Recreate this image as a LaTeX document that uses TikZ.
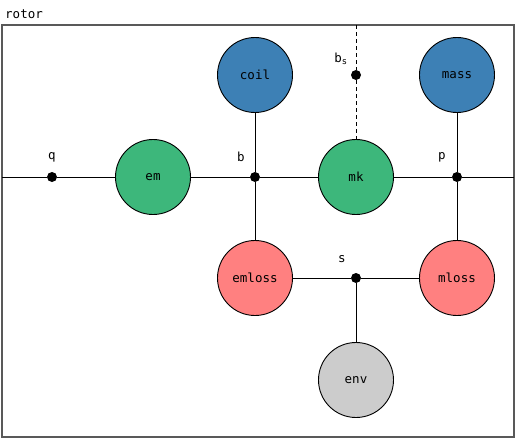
\documentclass[tikz,border=0pt]{standalone}
\usepackage{fontspec}
\setmonofont{DejaVu Sans Mono}

\definecolor{compgreen}{HTML}{3DB77B}
\definecolor{compblue}{HTML}{3D80B5}
\definecolor{compred}{HTML}{FF8080}
\definecolor{compgrey}{HTML}{CCCCCC}

\tikzset{
    comp/.style={circle, draw=black, line width=0.9pt, minimum size=75pt, inner sep=0pt},
    junction/.style={circle, fill=black, minimum size=10pt, inner sep=0pt},
    lbl/.style={inner sep=0pt},
    wire/.style={line width=1pt},
}

\begin{document}
\begin{tikzpicture}[x=1pt, y=-1pt, font=\ttfamily\fontsize{12.5}{14}\selectfont]
        \useasboundingbox (0,0) rectangle (517,439);
        \draw[line width=1.2pt, black!65] (2,25) rectangle (514,437);
        \node[lbl, anchor=base west] (rotorlbl) at (5,18) {rotor};

        \node[comp, fill=compgreen] (em) at (153,177) {em};
        \node[comp, fill=compblue] (coil) at (255,75) {coil};
        \node[comp, fill=compgreen] (mk) at (356,177) {mk};
        \node[comp, fill=compblue] (mass) at (457,75) {mass};
        \node[comp, fill=compred] (emloss) at (255,278) {emloss};
        \node[comp, fill=compred] (mloss) at (457,278) {mloss};
        \node[comp, fill=compgrey] (env) at (356,380) {env};

        \node[junction] (q) at (52,177) {};
        \node[junction] (b) at (255,177) {};
        \node[junction] (p) at (457,177) {};
        \node[junction] (s) at (356,278) {};
        \node[junction] (bs) at (356,75) {};

        \node[lbl] (qlbl) at (52,157) {q};
        \node[lbl] (blbl) at (241,157) {b};
        \node[lbl] (plbl) at (442,157) {p};
        \node[lbl] (slbl) at (342,259) {s};
        \node[lbl] (bslbl) at (341,59) {b\textsubscript{s}};

        \coordinate (west) at (2,177);
        \coordinate (east) at (514,177);
        \coordinate (north) at (356,25);

        \draw[wire] (west) -- (q) -- (em) -- (b) -- (mk) -- (p) -- (east);
        \draw[wire] (coil) -- (b) -- (emloss);
        \draw[wire] (mass) -- (p) -- (mloss);
        \draw[wire] (emloss) -- (s) -- (mloss);
        \draw[wire] (s) -- (env);
        \draw[wire, dash pattern=on 4pt off 3pt] (north) -- (bs) -- (mk);
    \end{tikzpicture}
\end{document}
